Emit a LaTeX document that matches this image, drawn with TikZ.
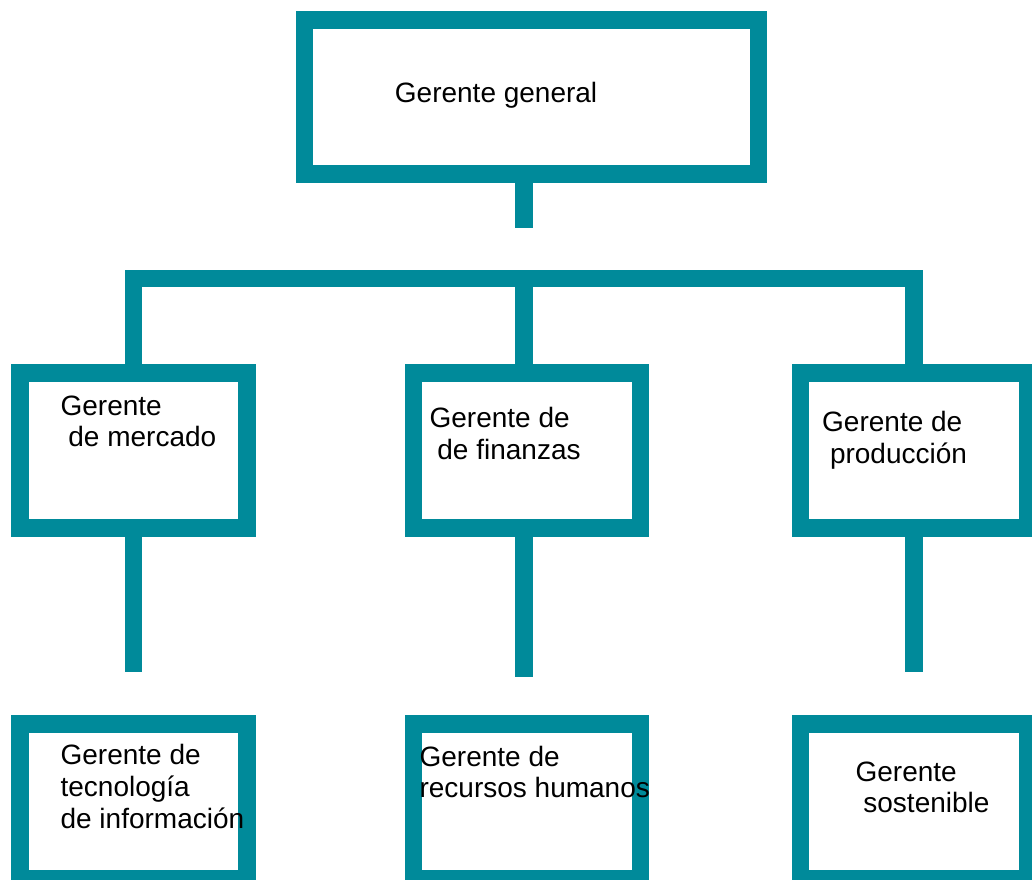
\documentclass[tikz,border=0pt]{standalone}
\usepackage{fontspec}
\setmainfont{Liberation Sans}
\definecolor{orgteal}{RGB}{0,138,154}
\begin{document}
\begin{tikzpicture}[x=1pt,y=-1pt,
    caja/.style={draw=orgteal, line width=17.5pt, inner sep=0pt, outer sep=0pt, minimum width=227pt, minimum height=155pt},
    enlace/.style={draw=orgteal, line width=17.5pt},
    texto/.style={anchor=base west, align=left, inner sep=0pt, font=\fontsize{28}{31.7}\selectfont}]
    \useasboundingbox (0,0) rectangle (1032,879);
    \node[caja, minimum width=454.4pt, minimum height=154.4pt] (general) at (531.5,97) {};
    \node[caja] (mercado) at (133.7,450.5) {};
    \node[caja] (finanzas) at (527.2,450.5) {};
    \node[caja] (produccion) at (914,450.5) {};
    \node[caja] (tecnologia) at (133.7,801.5) {};
    \node[caja] (recursos) at (527.2,801.5) {};
    \node[caja] (sostenible) at (914,801.5) {};
    \coordinate (tope) at (524,227.7);
    \coordinate (barra) at (0,278.7);
    \draw[enlace] ([xshift=-7.5pt]general.south) -- (tope);
    \draw[enlace] (mercado.north) |- (barra -| produccion.north) -- (produccion.north);
    \draw[enlace] ([xshift=-3.2pt]finanzas.north) -- ([xshift=-3.2pt]finanzas.north |- barra);
    \draw[enlace] (mercado.south) -- +(0,143.7);
    \draw[enlace] ([xshift=-3.2pt]finanzas.south) -- +(0,149);
    \draw[enlace] (produccion.south) -- +(0,143.7);
    \node[texto] (tgeneral) at (394.7,102.5) {Gerente general};
    \node[texto] (tmercado) at (60.4,446.7) {Gerente\\\hspace*{7.8pt}de mercado};
    \node[texto] (tfinanzas) at (429.4,459) {Gerente de\\\hspace*{7.8pt}de finanzas};
    \node[texto] (tproduccion) at (822,463.5) {Gerente de\\\hspace*{7.8pt}producción};
    \node[texto] (ttecnologia) at (60.4,828.3) {Gerente de\\tecnología\\de información};
    \node[texto] (trecursos) at (419.4,797.7) {Gerente de\\recursos humanos};
    \node[texto] (tsostenible) at (855.4,812.7) {Gerente\\\hspace*{7.8pt}sostenible};
\end{tikzpicture}
\end{document}
